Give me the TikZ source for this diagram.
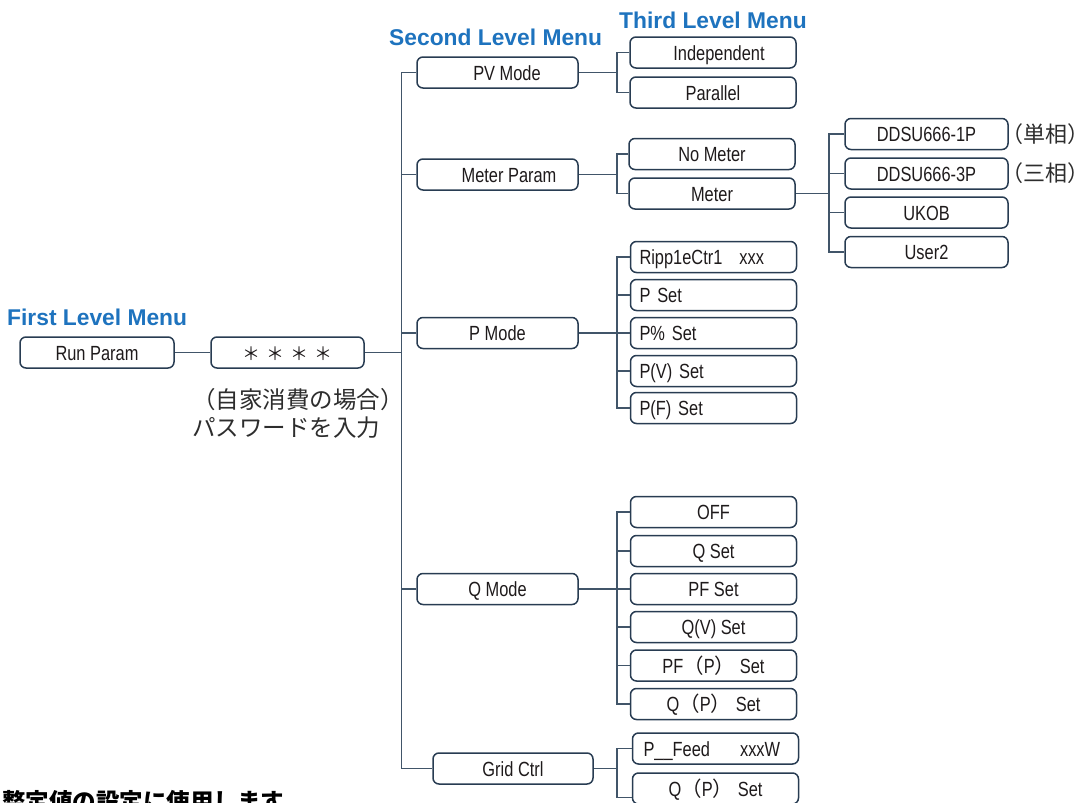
\documentclass[tikz,border=0pt]{standalone}
\usepackage{fontspec}
\newfontfamily\boxfamily[FakeStretch=0.8]{Liberation Sans}
\newfontfamily\headfamily{Liberation Sans}
\newfontfamily\cjk{Noto Sans CJK JP}
\definecolor{headc}{RGB}{30,115,190}
\definecolor{boxc}{RGB}{40,60,82}
\definecolor{linec}{RGB}{65,85,105}
\definecolor{txt}{RGB}{30,26,27}
\definecolor{notec}{RGB}{45,45,45}
\newcommand{\boxfont}{\fontsize{20.5}{24}\selectfont\boxfamily}
\newcommand{\headfont}{\fontsize{22.8}{26}\selectfont\headfamily\bfseries}
\newcommand{\notefont}{\fontsize{23.5}{28}\selectfont\cjk}
\newcommand{\fw}[1]{{\cjk #1}}
\newcommand{\pwmark}{{\fontsize{18}{20}\selectfont\cjk ＊}}
\begin{document}
\begin{tikzpicture}[x=1pt,y=-1pt,
  menubox/.style={draw=boxc, line width=1.5pt, rounded corners=6pt, minimum height=31pt,
    inner sep=0pt, text height=15pt, text depth=0pt, font=\boxfont, text=txt},
  secbox/.style={menubox, minimum width=161pt},
  thirdbox/.style={menubox, minimum width=166pt},
  leftbox/.style={menubox, text width=148pt, inner xsep=9pt, align=left},
  fourthbox/.style={menubox, minimum width=163pt},
  link/.style={draw=linec, line width=1.4pt},
  heading/.style={font=\headfont, text=headc, anchor=base west, inner sep=0pt},
  note/.style={font=\notefont, text=notec, anchor=west, inner sep=0pt},
  phase/.style={note, font=\fontsize{22}{26}\selectfont\cjk},
]
\useasboundingbox (0,0) rectangle (1087,803);

% headings
\node[heading] (h1) at (7,325) {First Level Menu};
\node[heading] (h2) at (389,45) {Second Level Menu};
\node[heading] (h3) at (619,28) {Third Level Menu};

% first level
\node[menubox, minimum width=154pt] (run) at (97,352.5) {Run Param};
\node[menubox, minimum width=153pt] (pw) at (287.5,352.5)
  {\pwmark\hspace{6pt}\pwmark\hspace{6pt}\pwmark\hspace{6pt}\pwmark};
\node[note] (cap1) at (192,400) {（自家消費の場合）};
\node[note] (cap2) at (192,428) {パスワードを入力};

% second level
\node[secbox] (pv) at (497.5,72.5) {\hspace{19pt}PV Mode};
\node[secbox] (mp) at (497.5,174.5) {\hspace{23pt}Meter Param};
\node[secbox] (pm) at (497.5,333) {P Mode};
\node[secbox] (qm) at (497.5,589) {Q Mode};
\node[secbox, minimum width=160pt] (gc) at (513,768.5) {Grid Ctrl};

% third level
\node[thirdbox] (ind) at (713,52.5) {\hspace{12pt}Independent};
\node[thirdbox] (par) at (713,92.5) {Parallel};
\node[thirdbox] (nm) at (712,154) {No Meter};
\node[thirdbox] (mt) at (712,193.5) {Meter};
\node[leftbox] (rip) at (713.5,257) {Ripp1eCtr1\hspace{17pt}xxx};
\node[leftbox] (ps) at (713.5,295) {P Set};
\node[leftbox] (ppc) at (713.5,333) {P\% Set};
\node[leftbox] (pvs) at (713.5,371) {P(V) Set};
\node[leftbox] (ppf) at (713.5,408) {P(F) Set};
\node[thirdbox] (off) at (713.5,512) {OFF};
\node[thirdbox] (qs) at (713.5,551) {Q Set};
\node[thirdbox] (qpf) at (713.5,589) {PF Set};
\node[thirdbox] (qvs) at (713.5,627) {Q(V) Set};
\node[thirdbox] (pfp) at (713.5,665.5) {PF\fw{（}P\fw{）} Set};
\node[thirdbox] (qpq) at (713.5,704) {Q\fw{（}P\fw{）} Set};
\node[leftbox, inner xsep=11pt, text width=144pt] (feed) at (715.5,748.5) {P\_\_Feed\hspace{30pt}xxxW};
\node[thirdbox] (qpg) at (715.5,788.5) {Q\fw{（}P\fw{）} Set};

% fourth level
\node[fourthbox] (d1) at (926.5,134) {DDSU666-1P};
\node[fourthbox] (d3) at (926.5,173.5) {DDSU666-3P};
\node[fourthbox] (uk) at (926.5,212.5) {UKOB};
\node[fourthbox] (u2) at (926.5,252) {User2};
\node[phase] (l1) at (1001,134) {（単相）};
\node[phase] (l3) at (1001,173.5) {（三相）};

% footnote running off the lower edge
\node[note, font=\notefont\bfseries, text=black] (foot) at (2,801.5) {整定値の設定に使用します};

% connectors
\coordinate (trunk) at (401.5,352.5);
\coordinate (fork) at (617,0);
\coordinate (fork4) at (829,0);

\draw[link] (run) -- (pw);
\draw[link] (pw.east) -- (trunk);
\draw[link] (pv.west) -| (trunk) |- (gc.west);
\foreach \n in {mp,pm,qm} \draw[link] (\n.west) -- (\n.west -| trunk);

\draw[link] (pv.east) -- (pv.east -| fork);
\draw[link] (ind.west) -- (ind.west -| fork) |- (par.west);

\draw[link] (mp.east) -- (mp.east -| fork);
\draw[link] (nm.west) -- (nm.west -| fork) |- (mt.west);

\draw[link] (pm.east) -- (pm.east -| fork);
\draw[link] (rip.west) -- (rip.west -| fork) |- (ppf.west);
\foreach \n in {ps,ppc,pvs} \draw[link] (\n.west) -- (\n.west -| fork);

\draw[link] (qm.east) -- (qm.east -| fork);
\draw[link] (off.west) -- (off.west -| fork) |- (qpq.west);
\foreach \n in {qs,qpf,qvs,pfp} \draw[link] (\n.west) -- (\n.west -| fork);

\draw[link] (gc.east) -- (gc.east -| fork);
\draw[link] (feed.west) -- (feed.west -| fork) |- ([yshift=-9pt]qpg.west);

\draw[link] (mt.east) -- (mt.east -| fork4);
\draw[link] (d1.west) -- (d1.west -| fork4) |- (u2.west);
\foreach \n in {d3,uk} \draw[link] (\n.west) -- (\n.west -| fork4);
\end{tikzpicture}
\end{document}
